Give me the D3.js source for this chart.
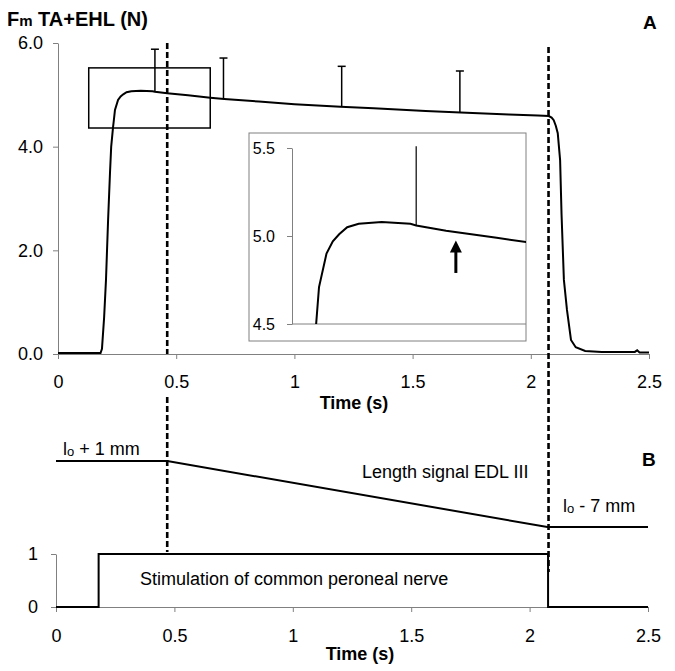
<!DOCTYPE html>
<html lang="en">
<head>
<meta charset="UTF-8">
<title>Force and length signals</title>
<script src="https://d3js.org/d3.v7.min.js"></script>
<style>
    body { margin: 0; background: #fff; }
    text { font-family: Arial, "Liberation Sans", sans-serif; fill: #000; }
    .axis path, .axis line { stroke: #808080; }
    .axis text { font-size: 18px; fill: #000; font-family: Arial, "Liberation Sans", sans-serif; }
    .inset .axis text { font-size: 16px; }
    .bold { font-weight: bold; }
</style>
</head>
<body>
<svg width="675" height="671"></svg>
<script>
    // force trace TA+EHL, [time s, force N]
    var forceTrace = [
        [0, 0.02], [0.18, 0.02], [0.186, 0.1], [0.195, 0.7], [0.203, 1.43], [0.212, 2.6],
        [0.22, 3.5], [0.225, 4.0], [0.233, 4.38], [0.236, 4.5], [0.241, 4.71], [0.254, 4.9],
        [0.265, 4.97], [0.276, 5.01], [0.29, 5.05], [0.31, 5.07], [0.35, 5.08], [0.40, 5.07],
        [0.41, 5.06], [0.462, 5.03], [0.55, 4.99], [0.644, 4.945], [0.703, 4.92], [0.85, 4.87],
        [1.0, 4.82], [1.195, 4.77], [1.335, 4.74], [1.555, 4.69], [1.703, 4.66], [1.907, 4.62],
        [2.03, 4.60], [2.076, 4.59], [2.088, 4.56], [2.097, 4.51], [2.106, 4.4], [2.114, 4.26],
        [2.124, 3.74], [2.13, 2.7], [2.14, 1.43], [2.153, 0.85], [2.17, 0.27], [2.19, 0.13],
        [2.23, 0.06], [2.3, 0.04], [2.44, 0.04], [2.45, 0.07], [2.46, 0.03], [2.5, 0.03]
    ];
    // error bars (time, top of bar)
    var errTimes = [0.41, 0.70, 1.20, 1.70];
    var errTops  = [5.88, 5.71, 5.55, 5.46];
    var insetErrTop = 5.51;

    var xTicksA = [0, 0.5, 1, 1.5, 2, 2.5];
    var yTicksA = [0, 2, 4, 6];
    var yTicksInset = [4.5, 5.0, 5.5];

    // zoom box drawn in panel A
    var boxTimes = [0.13, 0.644];
    var boxForce = [4.36, 5.52];

    // arrow in inset (time, from, to)
    var arrowTime = 0.479, arrowFrom = 4.79, arrowTo = 4.975;

    // start / end of shortening
    var markerTimes = [0.462, 2.075];

    // panel B
    var lengthSignal = [[0, 1], [0.47, 1], [2.075, -7], [2.5, -7]];   // mm re lo
    var stimSignal = [[0, 0], [0.18, 1], [2.078, 0], [2.5, 0]];
    var xTicksB = [0, 0.5, 1, 1.5, 2, 2.5];
    var yTicksB = [0, 1];

    var svg = d3.select("svg");

    // ---------- panel A ----------
    var xA = d3.scaleLinear().domain([0, 2.5]).range([58, 649]);
    var yA = d3.scaleLinear().domain([0, 6]).range([354, 43]);

    svg.append("g").attr("class", "axis")
        .attr("transform", "translate(0,354)")
        .call(d3.axisBottom(xA).tickValues(xTicksA).tickFormat(d3.format("")).tickSize(5).tickPadding(16).tickSizeOuter(0));
    svg.append("g").attr("class", "axis")
        .attr("transform", "translate(58,0)")
        .call(d3.axisLeft(yA).tickValues(yTicksA).tickFormat(d3.format(".1f")).tickSize(5).tickPadding(10).tickSizeOuter(0));

    var forceAt = function(t) {
        var i = d3.bisector(function(d) { return d[0]; }).left(forceTrace, t);
        if (i <= 0) return forceTrace[0][1];
        var a = forceTrace[i - 1], b = forceTrace[i];
        return a[1] + (b[1] - a[1]) * (t - a[0]) / (b[0] - a[0]);
    };

    var lineA = d3.line().x(function(d) { return xA(d[0]); }).y(function(d) { return yA(d[1]); });
    svg.append("path").datum(forceTrace)
        .attr("d", lineA).attr("fill", "none").attr("stroke", "#000").attr("stroke-width", 2);

    // error bars with caps
    errTimes.forEach(function(t, i) {
        var x = xA(t);
        svg.append("line").attr("x1", x).attr("x2", x)
            .attr("y1", yA(forceAt(t))).attr("y2", yA(errTops[i]))
            .attr("stroke", "#000").attr("stroke-width", 1.5);
        svg.append("line").attr("x1", x - 4).attr("x2", x + 4)
            .attr("y1", yA(errTops[i])).attr("y2", yA(errTops[i]))
            .attr("stroke", "#000").attr("stroke-width", 1.5);
    });

    svg.append("rect")
        .attr("x", xA(boxTimes[0])).attr("y", yA(boxForce[1]))
        .attr("width", xA(boxTimes[1]) - xA(boxTimes[0]))
        .attr("height", yA(boxForce[0]) - yA(boxForce[1]))
        .attr("fill", "none").attr("stroke", "#000").attr("stroke-width", 1.5);

    // ---------- inset ----------
    var inset = svg.append("g").attr("class", "inset");
    inset.append("rect").attr("x", 249).attr("y", 133).attr("width", 277).attr("height", 208)
        .attr("fill", "#fff").attr("stroke", "#808080").attr("stroke-width", 1);

    var xI = d3.scaleLinear().domain([0.194, 0.601]).range([292, 526]);
    var yI = d3.scaleLinear().domain([4.5, 5.5]).range([324, 148]);

    inset.append("line").attr("x1", 292).attr("x2", 526).attr("y1", yI(4.5)).attr("y2", yI(4.5))
        .attr("stroke", "#808080");
    inset.append("g").attr("class", "axis")
        .attr("transform", "translate(292,0)")
        .call(d3.axisLeft(yI).tickValues(yTicksInset).tickFormat(d3.format(".1f")).tickSize(5).tickPadding(12).tickSizeOuter(0));

    inset.append("clipPath").attr("id", "insetClip")
        .append("rect").attr("x", 292).attr("y", 140).attr("width", 234).attr("height", yI(4.5) - 140);

    var lineI = d3.line().x(function(d) { return xI(d[0]); }).y(function(d) { return yI(d[1]); });
    inset.append("path").datum(forceTrace)
        .attr("clip-path", "url(#insetClip)")
        .attr("d", lineI).attr("fill", "none").attr("stroke", "#000").attr("stroke-width", 2);

    inset.append("line").attr("x1", xI(errTimes[0])).attr("x2", xI(errTimes[0]))
        .attr("y1", yI(forceAt(errTimes[0]))).attr("y2", yI(insetErrTop))
        .attr("stroke", "#000").attr("stroke-width", 1.2);

    var ax = xI(arrowTime), aTip = yI(arrowTo), aTail = yI(arrowFrom);
    inset.append("line").attr("x1", ax).attr("x2", ax).attr("y1", aTail).attr("y2", aTip + 10)
        .attr("stroke", "#000").attr("stroke-width", 3);
    inset.append("path")
        .attr("d", "M" + ax + "," + aTip + "L" + (ax - 6) + "," + (aTip + 12) + "L" + (ax + 6) + "," + (aTip + 12) + "Z")
        .attr("fill", "#000");

    // titles panel A
    var title = svg.append("text").attr("class", "bold").attr("x", 7).attr("y", 26).style("font-size", "20px");
    title.append("tspan").text("F");
    title.append("tspan").style("font-size", "15px").text("m");
    title.append("tspan").text(" TA+EHL (N)");
    svg.append("text").attr("class", "bold").attr("x", 643).attr("y", 29).style("font-size", "19px").text("A");
    svg.append("text").attr("class", "bold").attr("x", 354).attr("y", 409).attr("text-anchor", "middle")
        .style("font-size", "18px").text("Time (s)");

    // ---------- panel B ----------
    var xB = d3.scaleLinear().domain([0, 2.5]).range([56, 648]);
    var yStim = d3.scaleLinear().domain([0, 1]).range([607, 554]);
    var yLen = d3.scaleLinear().domain([-7, 1]).range([527, 461]);

    svg.append("g").attr("class", "axis")
        .attr("transform", "translate(0,607)")
        .call(d3.axisBottom(xB).tickValues(xTicksB).tickFormat(d3.format("")).tickSize(5).tickPadding(17).tickSizeOuter(0));
    svg.append("g").attr("class", "axis")
        .attr("transform", "translate(56,0)")
        .call(d3.axisLeft(yStim).tickValues(yTicksB).tickFormat(d3.format("d")).tickSize(5).tickPadding(13).tickSizeOuter(0));

    svg.append("path").datum(lengthSignal)
        .attr("d", d3.line().x(function(d) { return xB(d[0]); }).y(function(d) { return yLen(d[1]); }))
        .attr("fill", "none").attr("stroke", "#000").attr("stroke-width", 2);
    svg.append("path").datum(stimSignal)
        .attr("d", d3.line().curve(d3.curveStepAfter).x(function(d) { return xB(d[0]); }).y(function(d) { return yStim(d[1]); }))
        .attr("fill", "none").attr("stroke", "#000").attr("stroke-width", 2);

    var lenLabel = function(x, y, rest) {
        var t = svg.append("text").attr("x", x).attr("y", y).style("font-size", "18px");
        t.append("tspan").text("l");
        t.append("tspan").style("font-size", "13px").attr("dy", 1).text("o");
        t.append("tspan").attr("dy", -1).text(rest);
    };
    lenLabel(63, 455, " + 1 mm");
    lenLabel(563, 512, " - 7 mm");
    svg.append("text").attr("x", 362).attr("y", 478).style("font-size", "18px").text("Length signal EDL III");
    svg.append("text").attr("x", 140).attr("y", 585).style("font-size", "18px").text("Stimulation of common peroneal nerve");
    svg.append("text").attr("class", "bold").attr("x", 642).attr("y", 466).style("font-size", "19px").text("B");
    svg.append("text").attr("class", "bold").attr("x", 360).attr("y", 660).attr("text-anchor", "middle")
        .style("font-size", "18px").text("Time (s)");

    // ---------- dashed markers across both panels ----------
    var dashSegs = [
        [markerTimes[0], 43, 354], [markerTimes[0], 397, 552],
        [markerTimes[1], 47, 572]
    ];
    dashSegs.forEach(function(s) {
        svg.append("line").attr("x1", xA(s[0])).attr("x2", xA(s[0]))
            .attr("y1", s[1]).attr("y2", s[2])
            .attr("stroke", "#000").attr("stroke-width", 2.6).attr("stroke-dasharray", "6,3");
    });
</script>
</body>
</html>
